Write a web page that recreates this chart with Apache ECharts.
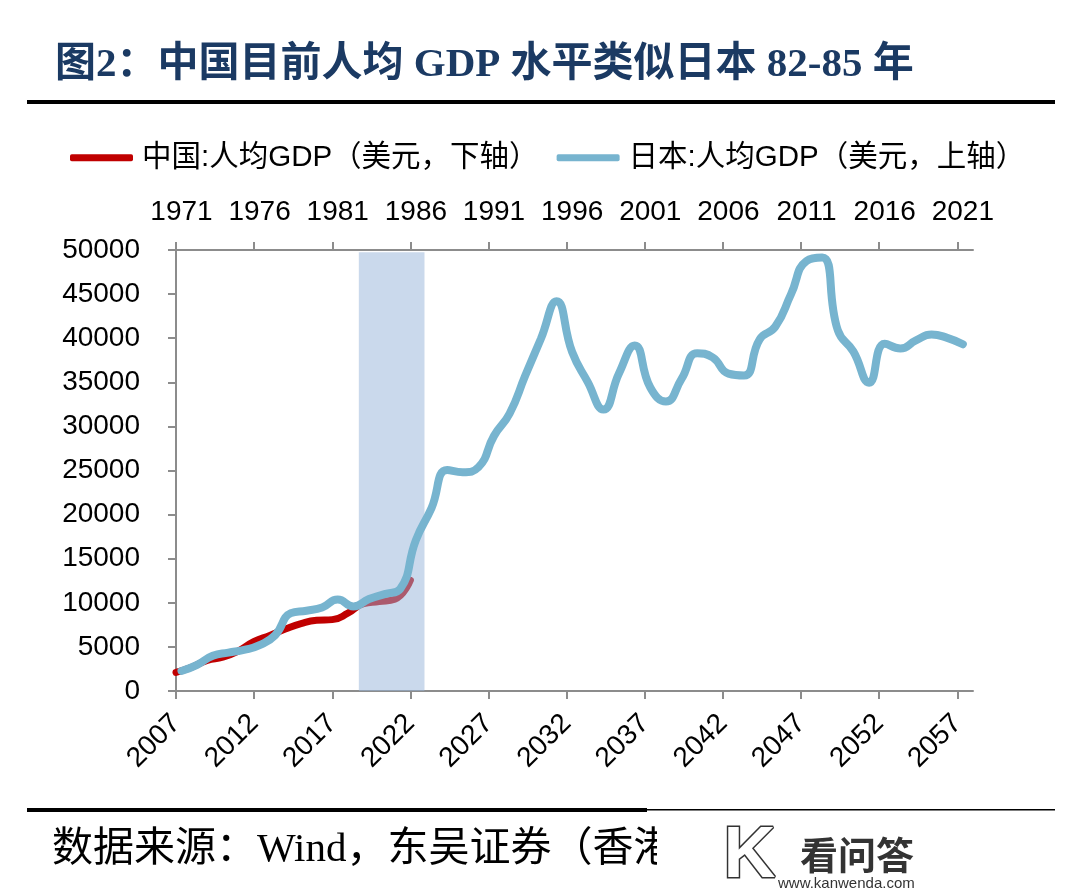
<!DOCTYPE html>
<html><head><meta charset="utf-8">
<script src="https://cdn.jsdelivr.net/npm/echarts@6/dist/echarts.min.js"></script>
<style>html,body{margin:0;padding:0;background:#fff}#c{width:1080px;height:896px}</style>
</head><body><div id="c"></div>
<script>
// China per-capita GDP (USD), plotted on the lower axis
const chinaYears = [2007,2008,2009,2010,2011,2012,2013,2014,2015,2016,2017,2018,2019,2020,2021,2022];
const chinaGDP   = [2099,2694,3468,3832,4550,5614,6301,7020,7636,8016,8094,8817,9905,10144,10409,12556];
// Japan per-capita GDP (USD), plotted on the upper axis
const japanYears = [1971,1972,1973,1974,1975,1976,1977,1978,1979,1980,1981,1982,1983,1984,1985,1986,1987,1988,1989,1990,
                    1991,1992,1993,1994,1995,1996,1997,1998,1999,2000,2001,2002,2003,2004,2005,2006,2007,2008,2009,2010,
                    2011,2012,2013,2014,2015,2016,2017,2018,2019,2020,2021];
const japanGDP   = [2272,2967,3998,4354,4659,5198,6335,8821,9105,9463,10361,9578,10425,10984,11585,17112,20745,25051,24813,25371,
                    28925,31465,35766,39934,44198,38437,35022,31903,36027,39169,34406,32821,35387,38299,37813,35991,35779,39876,41309,44968,
                    48760,49145,40898,38475,34961,39375,38834,39751,40416,40040,39313];
// tick labels
const bottomTicks = [2007,2012,2017,2022,2027,2032,2037,2042,2047,2052,2057];
const topTicks    = [1971,1976,1981,1986,1991,1996,2001,2006,2011,2016,2021];
// shaded comparison window (lower-axis years) and its height
const bandRange = [2018.7, 2022.9];
const bandTop = 49750;

const GRAY = '#8C8C8C';
const LATIN = "'Liberation Sans','Noto Sans CJK SC',sans-serif";
const SERIF = "'Liberation Serif','Noto Sans CJK SC',serif";

const chart = echarts.init(document.getElementById('c'));
chart.setOption({
  animation: false,
  backgroundColor: '#fff',
  grid: { left: 176, right: 107, top: 250, bottom: 205, containLabel: false },
  legend: {
    left: 65, top: 138, itemWidth: 63, itemHeight: 7, itemGap: 18, icon: 'roundRect',
    textStyle: { fontSize: 29.5, fontFamily: LATIN, color: '#000', padding: [0,0,0,4] },
    data: ['中国:人均GDP（美元，下轴）', '日本:人均GDP（美元，上轴）']
  },
  xAxis: [
    { type: 'value', position: 'bottom', min: 2007, max: 2058,
      axisLine: { lineStyle: { color: GRAY, width: 2 } },
      axisTick: { length: 8, lineStyle: { color: GRAY, width: 2 }, customValues: bottomTicks },
      axisLabel: { customValues: bottomTicks, rotate: 45, margin: 28, fontSize: 28, fontFamily: LATIN, color: '#000',
                   formatter: v => String(v) },
      splitLine: { show: false } },
    { type: 'value', position: 'top', min: 2007, max: 2058,
      axisLine: { lineStyle: { color: GRAY, width: 2 } },
      axisTick: { length: 8, lineStyle: { color: GRAY, width: 2 }, customValues: bottomTicks },
      axisLabel: { show: false }, splitLine: { show: false } },
    { type: 'value', position: 'top', min: 1970.65, max: 2021.65,
      axisLine: { show: false }, axisTick: { show: false },
      axisLabel: { customValues: topTicks, margin: 24, fontSize: 28, fontFamily: LATIN, color: '#000',
                   formatter: v => String(v) },
      splitLine: { show: false } }
  ],
  yAxis: { type: 'value', min: 0, max: 50000, interval: 5000,
    axisLine: { show: true, lineStyle: { color: GRAY, width: 2 } },
    axisTick: { show: true, length: 8, lineStyle: { color: GRAY, width: 2 } },
    axisLabel: { margin: 36, fontSize: 28, fontFamily: LATIN, color: '#000', formatter: v => String(v) },
    splitLine: { show: false } },
  series: [
    { name: '中国:人均GDP（美元，下轴）', type: 'line', xAxisIndex: 0, z: 2,
      data: chinaYears.map((y, i) => [y, chinaGDP[i]]),
      smooth: 0.5, symbol: 'none', color: '#C00000',
      itemStyle: { color: '#C00000' },
      lineStyle: { color: '#C00000', width: 7, cap: 'round' },
      markArea: { silent: true, z: 3, itemStyle: { color: 'rgba(150,180,218,0.5)' },
        data: [[{ xAxis: bandRange[0], yAxis: 0 }, { xAxis: bandRange[1], yAxis: bandTop }]] } },
    { name: '日本:人均GDP（美元，上轴）', type: 'line', xAxisIndex: 2, z: 4,
      data: japanYears.map((y, i) => [y, japanGDP[i]]),
      smooth: 0.5, symbol: 'none', color: '#77B4CF',
      itemStyle: { color: '#77B4CF' },
      lineStyle: { color: '#77B4CF', width: 8, cap: 'round' } }
  ],
  graphic: [
    { type: 'text', left: 55, top: 45, z: 10,
      style: { text: '图2：中国目前人均 GDP 水平类似日本 82-85 年', fontSize: 41, fontWeight: 'bold',
               fontFamily: SERIF, fill: '#1B3A63' } },
    { type: 'rect', shape: { x: 27, y: 100, width: 1028, height: 4 }, style: { fill: '#000' } },
    { type: 'rect', shape: { x: 27, y: 808, width: 620, height: 4 }, style: { fill: '#000' } },
    { type: 'rect', shape: { x: 645, y: 809, width: 410, height: 1.5 }, style: { fill: '#000' } },
    { type: 'text', left: 52, top: 830, z: 10,
      style: { text: '数据来源：Wind，东吴证券（香港）', fontSize: 41, fontFamily: SERIF, fill: '#000' } },
    { type: 'rect', z: 20, shape: { x: 657, y: 813, width: 423, height: 83 }, style: { fill: '#fff' } },
    { type: 'text', z: 21, left: 722, top: 820,
      style: { text: 'K', fontSize: 72, fontWeight: 'bold', fontFamily: LATIN, fill: '#fff', stroke: '#333', lineWidth: 3 } },
    { type: 'text', z: 21, left: 800, top: 836,
      style: { text: '看问答', fontSize: 38, fontWeight: 'bold', fontFamily: "'Noto Sans CJK SC',sans-serif", fill: '#333' } },
    { type: 'text', z: 21, left: 778, top: 876,
      style: { text: 'www.kanwenda.com', fontSize: 15, fontFamily: LATIN, fill: '#333' } }
  ]
});
</script></body></html>
